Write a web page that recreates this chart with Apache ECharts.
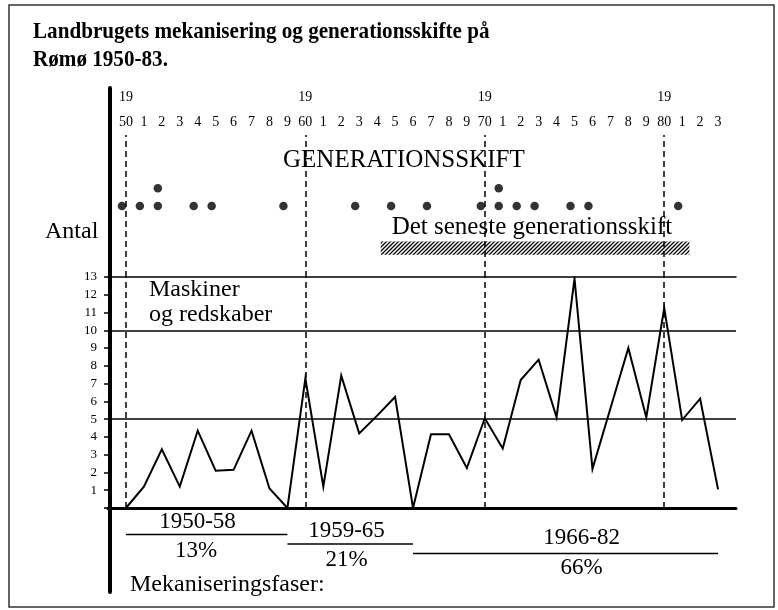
<!DOCTYPE html>
<html>
<head>
<meta charset="utf-8">
<script src="https://cdn.jsdelivr.net/npm/echarts@6/dist/echarts.min.js"></script>
<style>
  html, body { margin: 0; padding: 0; background: #fff; }
  #chart { width: 778px; height: 610px; }
</style>
</head>
<body>
<div id="chart"></div>
<script>
// Years on the time axis
const years = [1950, 1951, 1952, 1953, 1954, 1955, 1956, 1957, 1958, 1959,
               1960, 1961, 1962, 1963, 1964, 1965, 1966, 1967, 1968, 1969,
               1970, 1971, 1972, 1973, 1974, 1975, 1976, 1977, 1978, 1979,
               1980, 1981, 1982, 1983];

// Machines and implements acquired per year (Antal)
const machines = [0, 1.2, 3.3, 1.2, 4.35, 2.1, 2.15, 4.35, 1.1, 0,
                  7.3, 1.2, 7.45, 4.2, 5.2, 6.25, 0, 4.15, 4.15, 2.25,
                  5.05, 3.35, 7.2, 8.35, 5.1, 12.9, 2.2, 5.6, 9.0, 5.1,
                  11.25, 4.95, 6.15, 1.05];

// One entry per generation shift (a year listed twice = two shifts that year)
const shiftYears = [1950, 1951, 1952, 1952, 1954, 1955, 1959, 1963, 1965, 1967,
                    1970, 1971, 1971, 1972, 1973, 1975, 1976, 1981];

// Span of the most recent generation shift
const latestShiftSpan = [1964.2, 1981.4];

// Mechanisation phases
const phaseLabels = ['1950-58', '1959-65', '1966-82'];
const phaseShares = ['13%', '21%', '66%'];
const phaseStart  = [1950, 1959, 1966];
const phaseEnd    = [1959, 1966, 1983];

// Decade guides and horizontal reference levels
const decades = [1950, 1960, 1970, 1980];
const guideLevels = [5, 10];

const SERIF = '"Liberation Serif", "Times New Roman", serif';
const INK = '#000';

// stack the shift dots: first shift in a year on row 4, second on row 5
const seen = {};
const shiftDots = shiftYears.map(function (y) {
  seen[y] = (seen[y] || 0) + 1;
  return [y, 3 + seen[y]];
});

// diagonal hatching for the latest-shift band
function hatchPattern() {
  const c = document.createElement('canvas');
  c.width = 4; c.height = 4;
  const g = c.getContext('2d');
  g.strokeStyle = INK;
  g.lineWidth = 1.3;
  g.beginPath();
  g.moveTo(0, 4); g.lineTo(4, 0);
  g.moveTo(-1, 1); g.lineTo(1, -1);
  g.moveTo(3, 5); g.lineTo(5, 3);
  g.stroke();
  return c;
}

const dashed = { type: [6, 4], color: INK, width: 1.5 };

const phaseSeries = phaseLabels.map(function (name, i) {
  return {
    type: 'line', name: name,
    xAxisIndex: 2, yAxisIndex: 2,
    data: [[phaseStart[i], i + 1], [phaseEnd[i], i + 1]],
    symbol: 'none', silent: true,
    lineStyle: { color: INK, width: 1.3 }
  };
});

function txt(x, y, text, size, opts) {
  opts = opts || {};
  const el = {
    type: 'text', x: x, y: y, silent: true,
    style: {
      text: text, fill: INK,
      font: (opts.weight ? opts.weight + ' ' : '') + size + 'px ' + SERIF,
      align: opts.align || 'left', verticalAlign: 'middle'
    }
  };
  if (opts.scaleX) el.scaleX = opts.scaleX;
  return el;
}

const phaseTextPos = [[197.5, 522, 196, 551], [346.5, 531, 346.7, 560], [581.7, 538, 581.7, 568]];
const phaseTexts = [];
phaseLabels.forEach(function (lab, i) {
  const p = phaseTextPos[i];
  phaseTexts.push(txt(p[0], p[1], lab, 23, { align: 'center' }));
  phaseTexts.push(txt(p[2], p[3], phaseShares[i], 23, { align: 'center' }));
});

const chart = echarts.init(document.getElementById('chart'), null, { renderer: 'canvas' });

chart.setOption({
  animation: false,
  backgroundColor: '#fff',
  grid: [
    { left: 108, width: 628, top: 277, height: 231 },   // machines
    { left: 108, width: 628, top: 135, height: 142 },   // generation shifts
    { left: 108, width: 628, top: 525, height: 38 },    // phases
    { left: 110, width: 10, top: 88, height: 504 }      // tall axis rule
  ],
  xAxis: [
    { gridIndex: 0, type: 'value', min: 1949, max: 1984, position: 'bottom',
      axisLine: { show: true, lineStyle: { color: INK, width: 3 } },
      axisTick: { show: false }, axisLabel: { show: false }, splitLine: { show: false } },
    { gridIndex: 1, type: 'value', min: 1949, max: 1984, interval: 1, position: 'top',
      axisLine: { show: true, lineStyle: { color: INK, width: 1.5 } },
      axisTick: { show: false }, splitLine: { show: false },
      axisLabel: {
        show: true, margin: 0, color: INK, fontFamily: SERIF, fontSize: 14, lineHeight: 25,
        formatter: function (v) {
          if (v < 1950 || v > 1983) return '';
          if (v % 10 === 0) return '19\n' + String(v % 100);
          return String(v % 10);
        }
      } },
    { gridIndex: 2, type: 'value', min: 1949, max: 1984, show: false },
    { gridIndex: 3, type: 'value', min: 0, max: 1, show: false }
  ],
  yAxis: [
    { gridIndex: 0, type: 'value', min: 0, max: 13, interval: 1, offset: -2,
      axisLine: { show: false },
      axisTick: { show: true, length: 6, lineStyle: { color: INK, width: 1.5 } },
      splitLine: { show: false },
      axisLabel: { show: true, margin: 13, color: INK, fontFamily: SERIF, fontSize: 13,
        formatter: function (v) { return v === 0 ? '' : String(v); } } },
    { gridIndex: 1, type: 'value', min: 0, max: 8, show: false },
    { gridIndex: 2, type: 'value', min: 0, max: 4, inverse: true, show: false },
    { gridIndex: 3, type: 'value', min: 0, max: 1, position: 'left',
      axisLine: { show: true, lineStyle: { color: INK, width: 4 } },
      axisTick: { show: false }, axisLabel: { show: false }, splitLine: { show: false } }
  ],
  series: [
    {
      type: 'line', name: 'Maskiner og redskaber',
      xAxisIndex: 0, yAxisIndex: 0,
      data: years.map(function (y, i) { return [y, machines[i]]; }),
      symbol: 'none',
      lineStyle: { color: INK, width: 2, join: 'miter' },
      markLine: {
        silent: true, symbol: 'none', label: { show: false },
        data: guideLevels.map(function (v) {
          return { yAxis: v, lineStyle: { type: 'solid', color: INK, width: 1.5 } };
        }).concat(decades.map(function (d) {
          return { xAxis: d, lineStyle: dashed };
        }))
      }
    },
    {
      type: 'scatter', name: 'Generationsskifte',
      xAxisIndex: 1, yAxisIndex: 1,
      data: shiftDots,
      symbol: 'circle', symbolSize: 8.5, symbolOffset: [-4, 0],
      itemStyle: { color: INK },
      markLine: {
        silent: true, symbol: 'none', label: { show: false },
        data: decades.map(function (d) { return { xAxis: d, lineStyle: dashed }; })
      },
      markArea: {
        silent: true,
        itemStyle: { color: { image: hatchPattern(), repeat: 'repeat' }, borderWidth: 0 },
        data: [[{ xAxis: latestShiftSpan[0], yAxis: 1.25 }, { xAxis: latestShiftSpan[1], yAxis: 2.0 }]]
      }
    }
  ].concat(phaseSeries),
  graphic: [
    { type: 'rect', silent: true, shape: { x: 9, y: 5, width: 765, height: 602 },
      style: { fill: 'none', stroke: '#333', lineWidth: 1.5 } },
    txt(33, 32, 'Landbrugets mekanisering og generationsskifte på', 24, { weight: 'bold', scaleX: 0.88 }),
    txt(33, 59.5, 'Rømø 1950-83.', 24, { weight: 'bold', scaleX: 0.88 }),
    txt(283, 160, 'GENERATIONSSKIFT', 25),
    txt(391.7, 227, 'Det seneste generationsskift', 25),
    txt(45, 232, 'Antal', 24),
    txt(149, 289.5, 'Maskiner', 24),
    txt(149, 314.5, 'og redskaber', 24),
    txt(130, 584.5, 'Mekaniseringsfaser:', 24)
  ].concat(phaseTexts)
});
</script>
</body>
</html>
